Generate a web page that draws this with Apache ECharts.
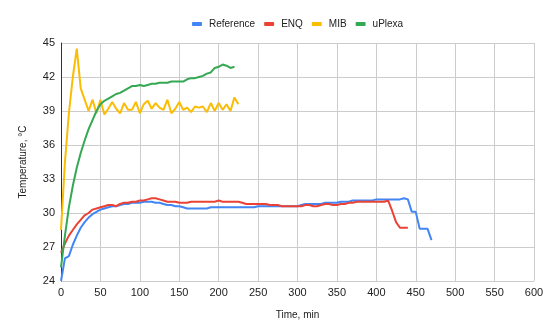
<!DOCTYPE html>
<html><head><meta charset="utf-8">
<script src="https://cdn.jsdelivr.net/npm/echarts@6/dist/echarts.min.js"></script>
<style>html,body{margin:0;padding:0;background:#fff}#c{width:550px;height:329px}</style>
</head><body><div id="c"></div>
<script>
var seriesNames = ['Reference', 'ENQ', 'MIB', 'uPlexa'];
var colors = ['#4285F4', '#EA4335', '#FBBC04', '#34A853'];

var refTime = [0,5,10,15,20,25,30,35,40,45,50,55,60,65,70,75,80,85,90,95,100,105,110,115,120,125,130,135,140,145,150,155,160,165,170,175,180,185,190,195,200,205,210,215,220,225,230,235,240,245,250,255,260,265,270,275,280,285,290,295,300,305,310,315,320,325,330,335,340,345,350,355,360,365,370,375,380,385,390,395,400,405,410,415,420,425,430,435,440,445,450,455,460,465,470];
var refTemp = [24.0,26.0,26.2,27.2,28.0,28.7,29.2,29.6,29.9,30.1,30.3,30.4,30.5,30.6,30.6,30.7,30.8,30.8,30.9,30.9,30.9,31.0,31.0,31.0,30.9,30.9,30.8,30.7,30.7,30.6,30.6,30.5,30.4,30.4,30.4,30.4,30.4,30.4,30.5,30.5,30.5,30.5,30.5,30.5,30.5,30.5,30.5,30.5,30.5,30.5,30.6,30.6,30.6,30.6,30.6,30.6,30.6,30.6,30.6,30.6,30.6,30.7,30.8,30.8,30.8,30.8,30.8,30.9,30.9,30.9,30.9,31.0,31.0,31.0,31.1,31.1,31.1,31.1,31.1,31.1,31.2,31.2,31.2,31.2,31.2,31.2,31.2,31.3,31.2,30.1,30.1,28.6,28.6,28.6,27.6];

var enqTime = [0,5,10,15,20,25,30,35,40,45,50,55,60,65,70,75,80,85,90,95,100,105,110,115,120,125,130,135,140,145,150,155,160,165,170,175,180,185,190,195,200,205,210,215,220,225,230,235,240,245,250,255,260,265,270,275,280,285,290,295,300,305,310,315,320,325,330,335,340,345,350,355,360,365,370,375,380,385,390,395,400,405,410,415,420,425,430,435,440];
var enqTemp = [26.5,27.3,28.0,28.5,29.0,29.4,29.8,30.0,30.3,30.4,30.5,30.6,30.7,30.7,30.6,30.8,30.9,30.9,31.0,31.0,31.1,31.1,31.2,31.3,31.3,31.2,31.1,31.0,31.0,31.0,30.9,30.9,30.9,31.0,31.0,31.0,31.0,31.0,31.0,31.0,31.1,31.0,31.0,31.0,31.0,31.0,30.9,30.8,30.8,30.8,30.8,30.8,30.8,30.7,30.7,30.7,30.6,30.6,30.6,30.6,30.6,30.6,30.7,30.7,30.6,30.6,30.7,30.8,30.8,30.7,30.7,30.8,30.8,30.9,30.9,31.0,31.0,31.0,31.0,31.0,31.0,31.0,31.0,31.1,30.2,29.2,28.7,28.7,28.7];

var mibTime = [0,5,10,15,20,25,30,35,40,45,50,55,60,65,70,75,80,85,90,95,100,105,110,115,120,125,130,135,140,145,150,155,160,165,170,175,180,185,190,195,200,205,210,215,220,225];
var mibTemp = [28.5,34.5,38.8,42.0,44.5,41.0,40.0,39.0,40.0,38.8,40.0,38.7,39.2,39.8,39.2,38.8,39.7,39.1,39.1,39.8,38.8,39.6,39.9,39.2,39.7,39.3,39.1,40.0,38.8,39.2,39.8,39.1,39.3,38.9,39.4,39.3,39.4,38.9,39.7,39.0,39.7,39.1,39.6,39.0,40.2,39.6];

var uplTime = [0,5,10,15,20,25,30,35,40,45,50,55,60,65,70,75,80,85,90,95,100,105,110,115,120,125,130,135,140,145,150,155,160,165,170,175,180,185,190,195,200,205,210,215,220];
var uplTemp = [25.2,28.0,30.5,32.4,34.0,35.3,36.4,37.4,38.2,39.0,39.6,39.9,40.1,40.3,40.5,40.6,40.8,41.0,41.2,41.2,41.3,41.2,41.3,41.4,41.4,41.5,41.5,41.5,41.6,41.6,41.6,41.6,41.8,41.9,41.9,42.0,42.1,42.3,42.4,42.8,42.9,43.1,43.0,42.8,42.9];

var xTicks = {min: 0, max: 600, interval: 50};
var yTicks = {min: 24, max: 45, interval: 3};

function pairs(t, v) { return t.map(function (x, i) { return [x, v[i]]; }); }
var allData = [pairs(refTime, refTemp), pairs(enqTime, enqTemp), pairs(mibTime, mibTemp), pairs(uplTime, uplTemp)];

var chart = echarts.init(document.getElementById('c'));
chart.setOption({
  animation: false,
  color: colors,
  textStyle: {fontFamily: 'Arial, "Liberation Sans", sans-serif'},
  legend: {
    top: 14, left: 187, itemWidth: 10, itemHeight: 4, itemGap: 9,
    icon: 'roundRect',
    textStyle: {fontSize: 10, color: '#222', padding: [0, 0, 0, 2]},
    data: seriesNames
  },
  grid: {left: 61, right: 16, top: 43, bottom: 48},
  xAxis: {
    type: 'value', min: xTicks.min, max: xTicks.max, interval: xTicks.interval,
    name: 'Time, min', nameLocation: 'middle', nameGap: 29,
    nameTextStyle: {fontSize: 10, color: '#222'},
    axisLine: {show: false}, axisTick: {show: false},
    axisLabel: {fontSize: 11, color: '#222', margin: 6},
    splitLine: {lineStyle: {color: '#cccccc', width: 1}}
  },
  yAxis: {
    type: 'value', min: yTicks.min, max: yTicks.max, interval: yTicks.interval,
    name: 'Temperature, °C', nameLocation: 'middle', nameGap: 33,
    nameTextStyle: {fontSize: 10, color: '#222'},
    axisLine: {show: true, lineStyle: {color: '#333', width: 1}}, axisTick: {show: false},
    axisLabel: {fontSize: 11, color: '#222', margin: 6},
    splitLine: {lineStyle: {color: '#cccccc', width: 1}}
  },
  series: seriesNames.map(function (n, i) {
    return {name: n, type: 'line', data: allData[i], showSymbol: false, symbol: 'none',
      lineStyle: {width: 2, color: colors[i]}, itemStyle: {color: colors[i]}, z: 2 + i};
  })
});
</script></body></html>
